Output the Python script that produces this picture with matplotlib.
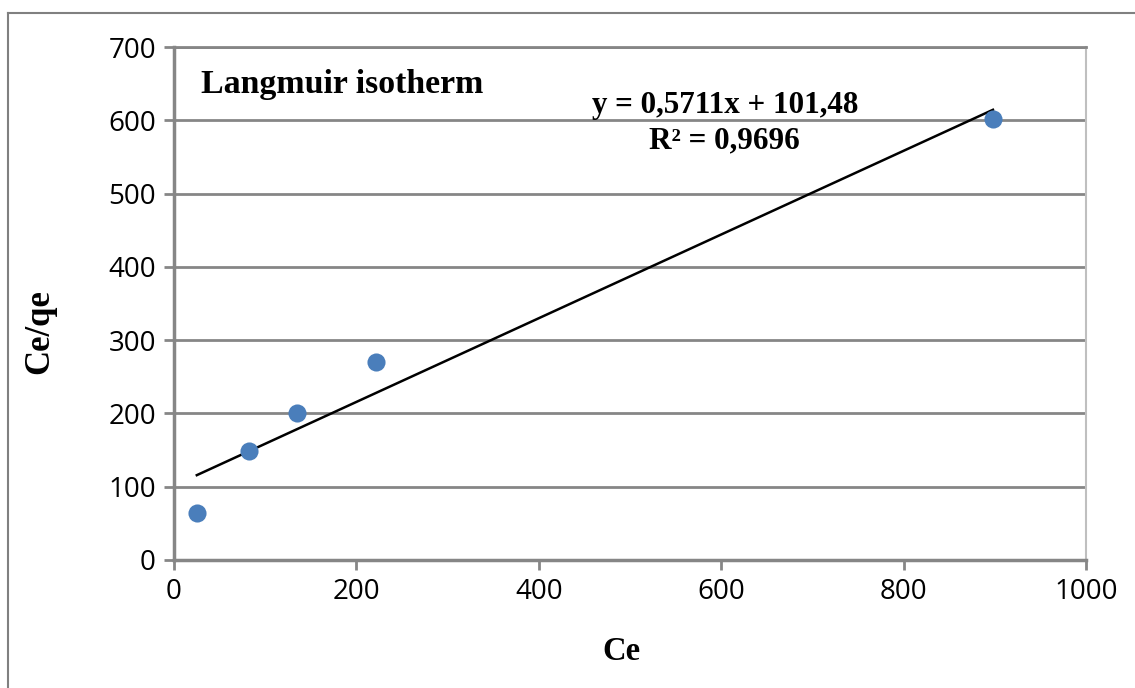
import numpy as np
import matplotlib.pyplot as plt
from matplotlib.lines import Line2D

ce = [25, 82, 135, 222, 898]
ce_qe = [64, 149, 201, 270, 602]
slope = 0.5711
intercept = 101.48
r2 = 0.9696

W, H = 1135, 688
fig = plt.figure(figsize=(W / 100, H / 100), dpi=100)
ax = fig.add_axes([174 / W, 1 - 560 / H, (1086 - 174) / W, (560 - 47) / H])

# outer chart frame (left and top visible)
fig.add_artist(Line2D([8 / W, 8 / W], [0, 1 - 13 / H], transform=fig.transFigure, color="#808080", lw=1.5))
fig.add_artist(Line2D([8 / W, 1], [1 - 13 / H, 1 - 13 / H], transform=fig.transFigure, color="#808080", lw=1.5))

xf = np.array([min(ce), max(ce)])
ax.plot(xf, slope * xf + intercept, color="black", lw=1.8, zorder=3)
ax.scatter(ce, ce_qe, s=170, color="#4a7ebb", zorder=4, linewidths=0)

ax.set_xlim(0, 1000)
ax.set_ylim(0, 700)
ax.set_xticks(range(0, 1001, 200))
ax.set_yticks(range(0, 701, 100))
ax.yaxis.grid(True, color="#868686", lw=2)
ax.set_axisbelow(True)
for s in ["left", "bottom"]:
    ax.spines[s].set_color("#868686")
    ax.spines[s].set_linewidth(2.5)
ax.spines["top"].set_color("#868686")
ax.spines["top"].set_linewidth(2)
ax.spines["right"].set_color("#bfbfbf")
ax.spines["right"].set_linewidth(1.5)
ax.tick_params(direction="out", length=7, width=2, color="#868686", labelsize=20, pad=6)
for lab in ax.get_xticklabels() + ax.get_yticklabels():
    lab.set_fontfamily("Open Sans")

serif = "Liberation Serif"
fig.text(621 / W, 1 - 660 / H, "Ce", fontfamily=serif, fontweight="bold", fontsize=23.5,
         ha="center", va="baseline")
fig.text(40 / W, 1 - 332 / H, "Ce/qe", fontfamily=serif, fontweight="bold", fontsize=25,
         ha="center", va="center", rotation=90)
ax.text(0.0296, 0.910, "Langmuir isotherm", transform=ax.transAxes, fontfamily=serif,
        fontweight="bold", fontsize=24.4, va="baseline", ha="left")
eq = f"y = {slope}x + {intercept}".replace(".", ",")
rr = f"R² = {r2}".replace(".", ",")
ax.text(0.604, 0.871, eq, transform=ax.transAxes, fontfamily=serif, fontweight="bold",
        fontsize=22.4, va="baseline", ha="center")
ax.text(0.604, 0.803, rr, transform=ax.transAxes, fontfamily=serif, fontweight="bold",
        fontsize=22.4, va="baseline", ha="center")

fig.savefig("out.png", dpi=100)
